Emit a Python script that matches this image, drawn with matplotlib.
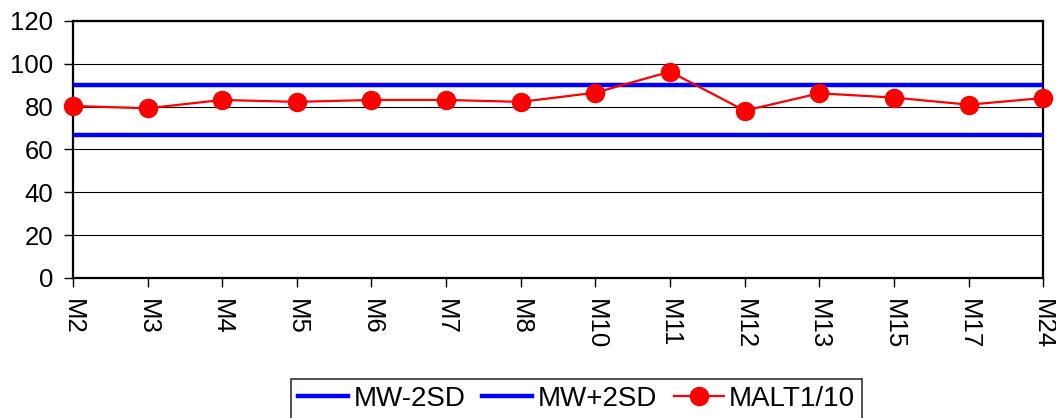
import matplotlib
matplotlib.use("Agg")
import matplotlib.pyplot as plt

# Daten
monate = ["M2", "M3", "M4", "M5", "M6", "M7", "M8", "M10", "M11", "M12", "M13", "M15", "M17", "M24"]
malt = [80.3, 79.2, 83.1, 82.2, 83.1, 83.1, 82.2, 86.5, 96.3, 78.1, 86.2, 84.2, 80.9, 84.0]
mw_minus_2sd = [66.9] * len(monate)
mw_plus_2sd = [90.0] * len(monate)

plt.rcParams['font.family'] = ['Liberation Sans', 'DejaVu Sans']

fig = plt.figure(figsize=(10.56, 4.18), dpi=100)
ax = fig.add_axes([0.069, 0.335, 0.919, 0.615])

x = list(range(len(monate)))
ax.plot(x, mw_minus_2sd, color='#0000ff', lw=3.2, label='MW-2SD', zorder=3)
ax.plot(x, mw_plus_2sd, color='#0000ff', lw=3.2, label='MW+2SD', zorder=3)
ax.plot(x, malt, color='#ff0000', lw=1.6, marker='o', markersize=13, label='MALT1/10', zorder=4, clip_on=False)

ax.set_xlim(0, len(monate) - 1)
ax.set_ylim(0, 120)
ax.set_yticks(range(0, 121, 20))
ax.set_xticks(x)
ax.set_xticklabels(monate, rotation=-90)
ax.tick_params(axis='both', labelsize=18.5, direction='out', length=6.5, width=1, colors='black')
ax.tick_params(axis='x', pad=8.5)
ax.tick_params(axis='y', pad=7.5)
ax.grid(axis='y', color='black', lw=0.8)
for s in ax.spines.values():
    s.set_linewidth(1.6)
    s.set_color('black')

fig.legend(loc='upper center', bbox_to_anchor=(0.546, 0.093), ncol=3, fontsize=20,
           frameon=True, fancybox=False, edgecolor='black', handlelength=1.8,
           handletextpad=0.2, columnspacing=0.6, borderpad=0.25, borderaxespad=0)
fig.legends[0].get_frame().set_linewidth(1.2)

fig.savefig("out.png", dpi=100)
